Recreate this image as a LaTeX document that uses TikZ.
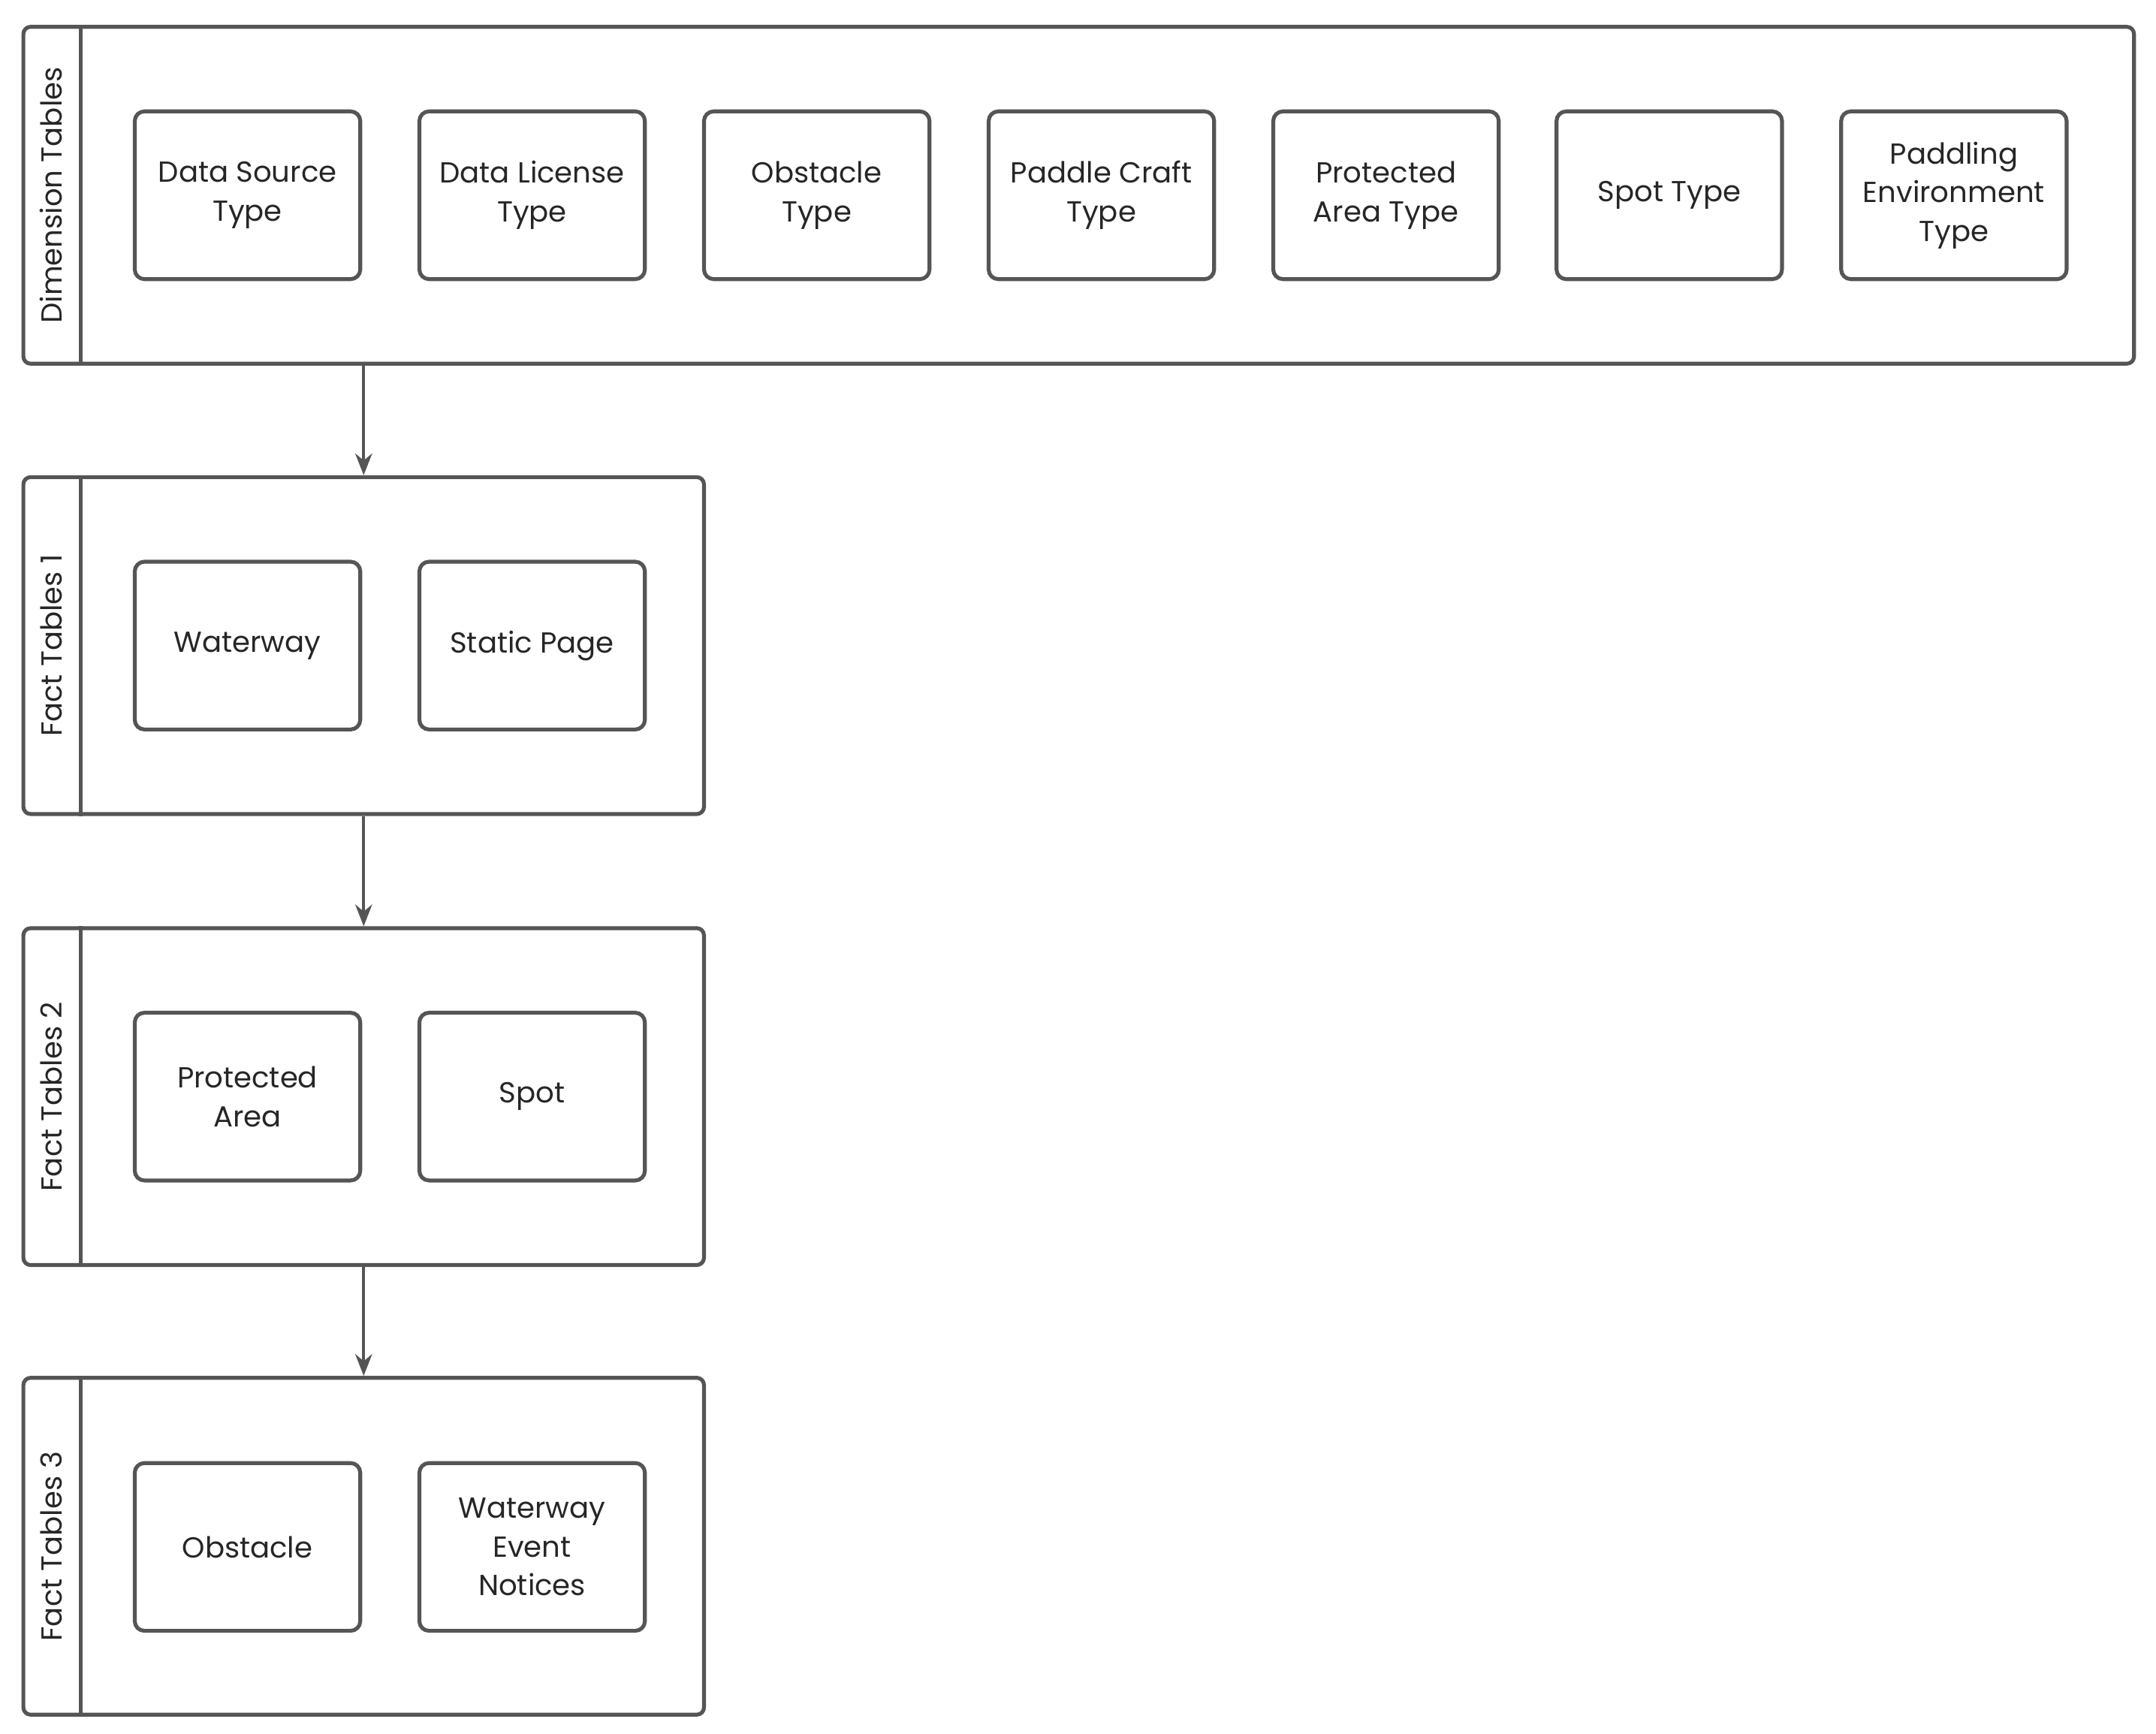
\documentclass[tikz,border=0pt]{standalone}
\usepackage{fontspec}
\setmainfont{Poppins}
\usetikzlibrary{positioning,arrows.meta}
\definecolor{linegray}{HTML}{555555}

\begin{document}
\begin{tikzpicture}[x=0.02cm,y=-0.02cm,
    lane/.style={draw=linegray,line width=1.6pt,rounded corners=3pt,minimum width=#1*0.02cm,minimum height=245*0.02cm,inner sep=0pt},
    table/.style={draw=linegray,line width=1.6pt,rounded corners=4pt,minimum width=164*0.02cm,minimum height=122*0.02cm,align=center,text=black!85,font=\fontsize{12}{16}\selectfont,inner sep=2pt},
    title/.style={rotate=90,font=\fontsize{12}{16}\selectfont,text=black!85},
    flow/.style={draw=linegray,line width=1.2pt,-{Stealth[length=9pt,width=7pt]}}
  ]
    \useasboundingbox (0,0) rectangle (1568,1261);
    % swimlanes
    \node[lane=1535] (dim) at (784.5,142) {};
    \node[lane=495] (fact1) at (264.5,469.5) {};
    \node[lane=495] (fact2) at (264.5,797.5) {};
    \node[lane=495] (fact3) at (264.5,1124.5) {};
    % lane headers
    \foreach \l/\t in {dim/Dimension Tables,fact1/Fact Tables 1,fact2/Fact Tables 2,fact3/Fact Tables 3} {
      \draw[linegray,line width=1.6pt] ([xshift=43*0.02cm]\l.north west) -- ([xshift=43*0.02cm]\l.south west);
      \node[title] at ([xshift=21.5*0.02cm]\l.west) {\t};
    }
    % dimension tables
    \node[table] (dsrc) at (180,142) {Data Source\\Type};
    \node[table] (dlic) at (387,142) {Data License\\Type};
    \node[table] (obst) at (594,142) {Obstacle\\Type};
    \node[table] (craft) at (801,142) {Paddle Craft\\Type};
    \node[table] (parea) at (1008,142) {Protected\\Area Type};
    \node[table] (spott) at (1214,142) {Spot Type};
    \node[table] (penv) at (1421,142) {Paddling\\Environment\\Type};
    % fact tables
    \node[table] (waterway) at (180,469.5) {Waterway};
    \node[table] (static) at (387,469.5) {Static Page};
    \node[table] (protarea) at (180,797.5) {Protected\\Area};
    \node[table] (spot) at (387,797.5) {Spot};
    \node[table] (obstacle) at (180,1125) {Obstacle};
    \node[table] (notices) at (387,1125) {Waterway\\Event\\Notices};
    % dependencies
    \draw[flow] (dim.south -| fact1.north) -- (fact1.north);
    \draw[flow] (fact1.south) -- (fact2.north);
    \draw[flow] (fact2.south) -- (fact3.north);
  \end{tikzpicture}
\end{document}
